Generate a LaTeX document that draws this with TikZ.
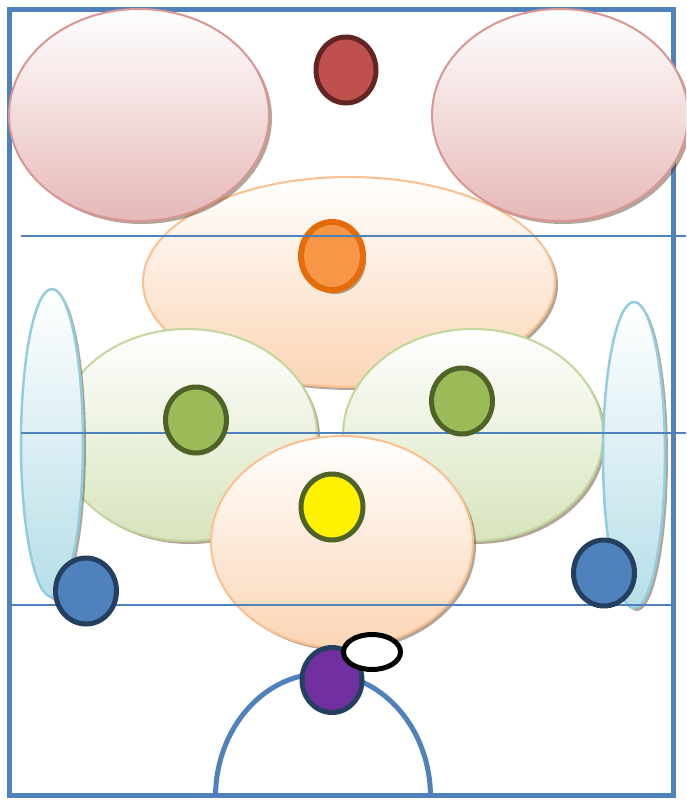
\documentclass[tikz,border=0pt]{standalone}
\usetikzlibrary{shadings}
\definecolor{frameblue}{HTML}{4F81BD}
\definecolor{pinkB}{HTML}{D99694}
\definecolor{pinkF}{HTML}{E6B9B8}
\definecolor{redF}{HTML}{C0504D}
\definecolor{redB}{HTML}{632523}
\definecolor{orB}{HTML}{FAC090}
\definecolor{orF}{HTML}{FBD5B5}
\definecolor{orcF}{HTML}{F79646}
\definecolor{orcB}{HTML}{E46C0A}
\definecolor{grB}{HTML}{C3D69B}
\definecolor{grF}{HTML}{D7E4BD}
\definecolor{grcF}{HTML}{9BBB59}
\definecolor{grcB}{HTML}{4F6228}
\definecolor{ltB}{HTML}{93CDDD}
\definecolor{ltF}{HTML}{B7DEE8}
\definecolor{dkB}{HTML}{243F60}
\definecolor{purF}{HTML}{7030A0}
\tikzset{
  shadowfill/.style={fill=black!55!brown, opacity=0.45},
  pinkshape/.style={top color=white, bottom color=pinkF, draw=pinkB, line width=2pt},
  orshape/.style={top color=white, bottom color=orF, draw=orB, line width=2pt},
  grshape/.style={top color=white, bottom color=grF, draw=grB, line width=2pt},
  ltshape/.style={top color=white, bottom color=ltF, draw=ltB, line width=2.5pt},
  guide/.style={draw=frameblue, line width=1.5pt},
  dot/.style={line width=5pt},
}
\begin{document}
\begin{tikzpicture}[x=1pt,y=-1pt]
\clip (0,0) rectangle (686,800);
\fill[white] (0,0) rectangle (686,800);
% frame
\draw[frameblue, line width=5pt] (9,10) rectangle (673,795);
% big orange ellipse
\fill[shadowfill] (352,285) ellipse [x radius=206pt, y radius=105pt];
\shadedraw[orshape] (349,282) ellipse [x radius=206pt, y radius=105pt];
% pink ellipses
\fill[shadowfill] (142,118) ellipse [x radius=130pt, y radius=106pt];
\shadedraw[pinkshape] (139,115) ellipse [x radius=130pt, y radius=106pt];
\fill[shadowfill] (563,118) ellipse [x radius=128pt, y radius=106pt];
\shadedraw[pinkshape] (560,115) ellipse [x radius=128pt, y radius=106pt];
% red circle
\draw[dot, fill=redF, draw=redB] (346,70) ellipse [x radius=30pt, y radius=33pt];
% orange circle
\fill[shadowfill] (335,260) ellipse [x radius=31pt, y radius=34pt];
\draw[line width=6pt, fill=orcF, draw=orcB] (332,256) ellipse [x radius=31pt, y radius=34pt];
% line 1
\draw[guide] (21,236) -- (686,236);
% green ellipses
\fill[shadowfill] (190,438) ellipse [x radius=130pt, y radius=106pt];
\shadedraw[grshape] (187,435) ellipse [x radius=130pt, y radius=106pt];
\fill[shadowfill] (476,438) ellipse [x radius=130pt, y radius=106pt];
\shadedraw[grshape] (473,435) ellipse [x radius=130pt, y radius=106pt];
% lower orange ellipse
\fill[shadowfill] (345,545) ellipse [x radius=131pt, y radius=106pt];
\shadedraw[orshape] (342,542) ellipse [x radius=131pt, y radius=106pt];
% tall light-blue ellipses
\fill[shadowfill] (55,446) ellipse [x radius=31pt, y radius=154pt];
\shadedraw[ltshape] (52,443) ellipse [x radius=31pt, y radius=154pt];
\fill[shadowfill] (637,458) ellipse [x radius=31pt, y radius=153pt];
\shadedraw[ltshape] (634,455) ellipse [x radius=31pt, y radius=153pt];
% lines 2,3
\draw[guide] (21,433) -- (686,433);
\draw[guide] (10,605) -- (673,605);
% green circles
\draw[dot, fill=grcF, draw=grcB] (196,420) ellipse [x radius=30.5pt, y radius=33pt];
\draw[dot, fill=grcF, draw=grcB] (462,401) ellipse [x radius=30.5pt, y radius=33pt];
% yellow
\draw[dot, fill=yellow, draw=grcB] (332,507) ellipse [x radius=31pt, y radius=33pt];
% blue circles
\draw[dot, fill=frameblue, draw=dkB] (86,591) ellipse [x radius=30.5pt, y radius=33pt];
\draw[dot, fill=frameblue, draw=dkB] (604,573) ellipse [x radius=30.5pt, y radius=33pt];
% arc
\coordinate (archL) at (215.5,797);
\draw[frameblue, line width=5pt] (archL) arc [start angle=180, end angle=0, x radius=107.5pt, y radius=123.5pt];
% purple
\draw[dot, fill=purF, draw=dkB] (332,680) ellipse [x radius=30pt, y radius=32.5pt];
% white ellipse
\draw[dot, fill=white, draw=black] (372,652) ellipse [x radius=28.5pt, y radius=17.5pt];
\end{tikzpicture}
\end{document}
